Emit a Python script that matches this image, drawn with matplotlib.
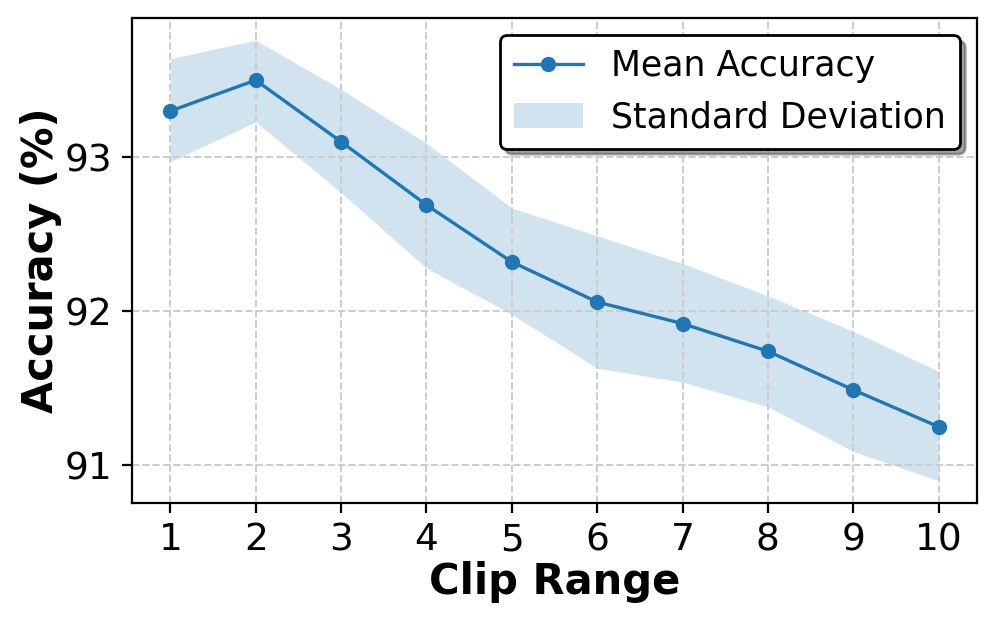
import matplotlib
matplotlib.use("Agg")
import matplotlib.pyplot as plt

clip_range = [1, 2, 3, 4, 5, 6, 7, 8, 9, 10]
mean_acc = [93.30, 93.50, 93.10, 92.69, 92.32, 92.06, 91.92, 91.74, 91.49, 91.25]
upper = [93.64, 93.76, 93.44, 93.09, 92.67, 92.49, 92.31, 92.10, 91.87, 91.61]
lower = [92.97, 93.23, 92.77, 92.28, 91.98, 91.63, 91.54, 91.38, 91.09, 90.90]

fig = plt.figure(figsize=(4.98, 3.115), dpi=200)
ax = fig.add_axes([0.1325, 0.193, 0.8485, 0.778])

ax.plot(clip_range, mean_acc, marker='o', color='#1f77b4', linewidth=1.2,
        markersize=4.5, label='Mean Accuracy')
ax.fill_between(clip_range, lower, upper, color='#1f77b4', alpha=0.2,
                linewidth=0, label='Standard Deviation')

ax.set_xticks(clip_range)
ax.set_yticks([91, 92, 93])
ax.tick_params(labelsize=13.5)
ax.set_xlabel('Clip Range', fontsize=15, fontweight='bold', labelpad=1)
ax.set_ylabel('Accuracy (%)', fontsize=15, fontweight='bold', labelpad=1)
ax.grid(True, linestyle='--', color='#cccccc', linewidth=0.7)

leg = ax.legend(fontsize=12.5, shadow=True, fancybox=True, framealpha=1,
                edgecolor='black', loc='upper right')

fig.savefig('out.png', dpi=200)
